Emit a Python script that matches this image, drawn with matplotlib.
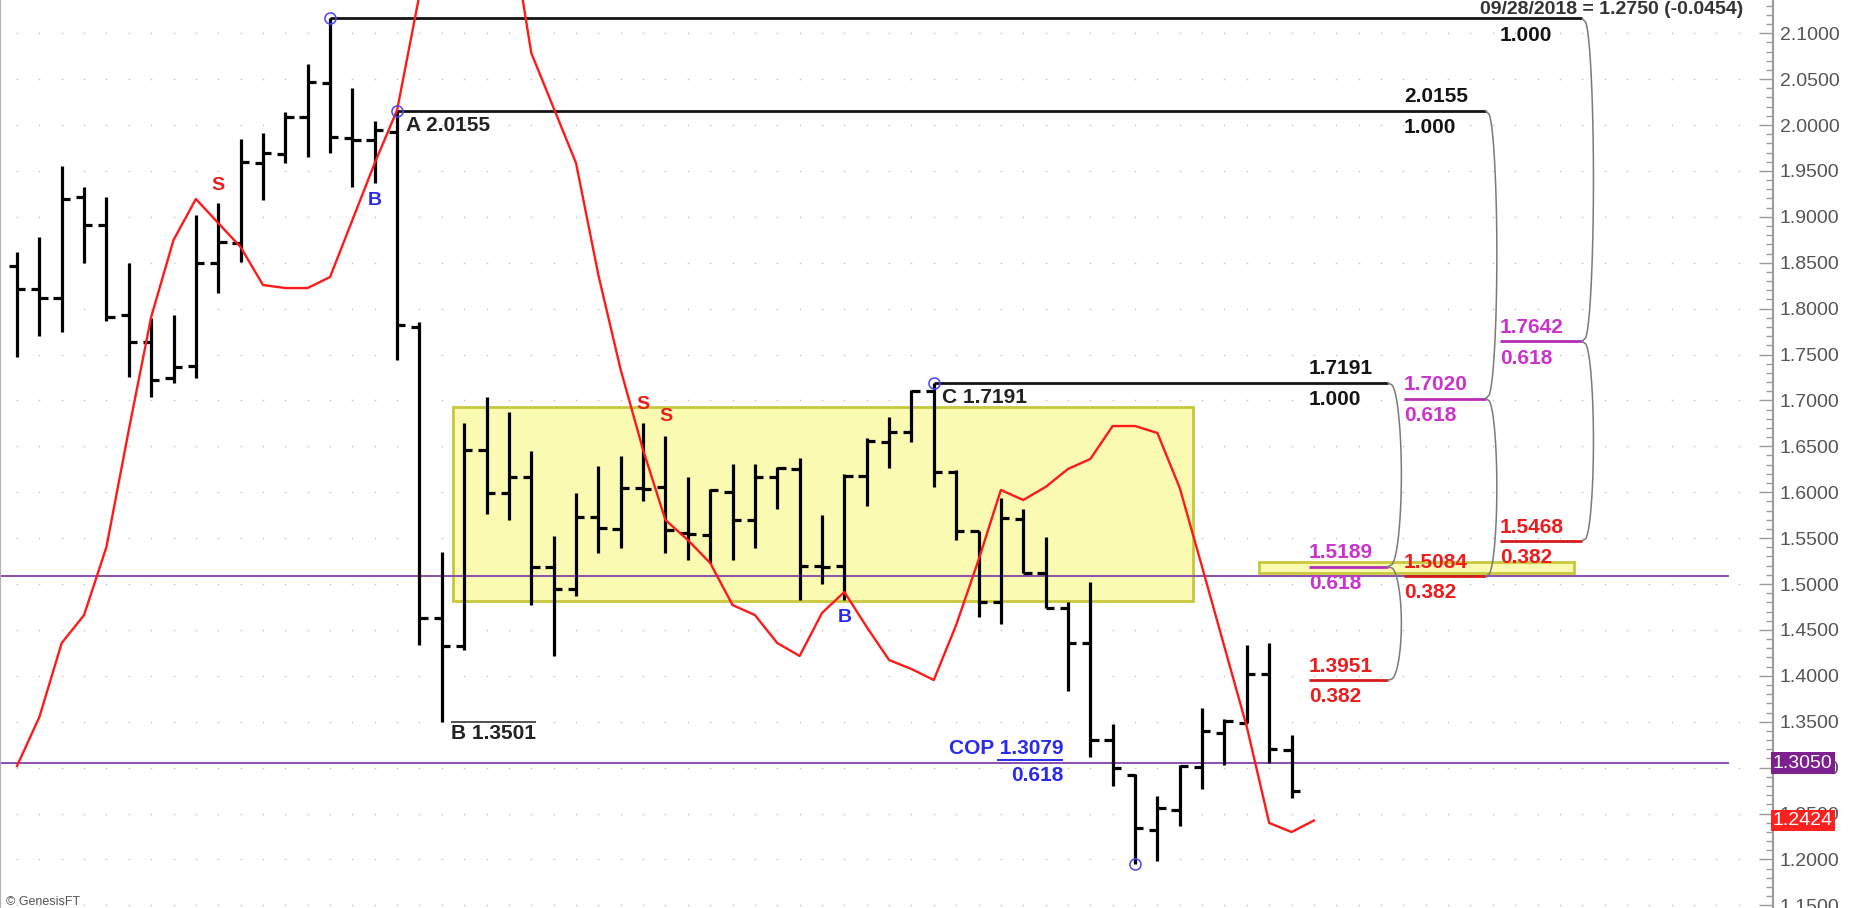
"""Bar chart with Fibonacci projections (GenesisFT style screenshot)."""

import numpy as np
import matplotlib

matplotlib.use("Agg")
import matplotlib.pyplot as plt
from matplotlib.patches import Rectangle
from matplotlib.ticker import MultipleLocator, FormatStrFormatter
from matplotlib.transforms import blended_transform_factory

plt.rcParams["font.family"] = ["Liberation Sans", "DejaVu Sans"]

# ---- OHLC bars (one per period) ----
opens = [1.8467, 1.8210, 1.8119, 1.9219, 1.8911, 1.7930, 1.7640, 1.7241, 1.7378, 1.8493,
         1.8711, 1.9583, 1.9684, 2.0084, 2.0454, 1.9855, 1.9837, 1.9927, 1.7803, 1.4626,
         1.4325, 1.6460, 1.5988, 1.6169, 1.5189, 1.4946, 1.5733, 1.5595, 1.6042, 1.6053,
         1.5552, 1.5534, 1.5999, 1.5697, 1.6162, 1.6253, 1.5196, 1.5196, 1.6176, 1.6550,
         1.6659, 1.7106, 1.6223, 1.5581, 1.4807, 1.5705, 1.5123, 1.4735, 1.4354, 1.3301,
         1.2919, 1.2320, 1.2538, 1.3003, 1.3374, 1.3489, 1.4020, 1.3192]
highs = [1.8613, 1.8777, 1.9557, 1.9328, 1.9212, 1.8493, 1.7901, 1.7930, 1.9020, 1.9147,
         1.9844, 1.9910, 2.0145, 2.0664, 2.1161, 2.0400, 2.0047, 2.0155, 1.7857, 1.5352,
         1.6750, 1.7040, 1.6877, 1.6452, 1.5526, 1.5995, 1.6289, 1.6398, 1.6750, 1.6612,
         1.6162, 1.6035, 1.6307, 1.6307, 1.6271, 1.6369, 1.5752, 1.6198, 1.6587, 1.6823,
         1.7113, 1.7191, 1.6242, 1.5581, 1.5934, 1.5814, 1.5509, 1.4807, 1.5025, 1.3475,
         1.2930, 1.2691, 1.3028, 1.3646, 1.3526, 1.4336, 1.4361, 1.3355]
lows = [1.7476, 1.7702, 1.7742, 1.8493, 1.7868, 1.7258, 1.7040, 1.7186, 1.7241, 1.8167,
        1.8511, 1.9183, 1.9583, 1.9655, 1.9698, 1.9328, 1.9365, 1.7440, 1.4336, 1.3501,
        1.4281, 1.5763, 1.5697, 1.4771, 1.4219, 1.4869, 1.5341, 1.5389, 1.5907, 1.5334,
        1.5261, 1.5232, 1.5261, 1.5389, 1.5814, 1.4826, 1.4997, 1.4826, 1.5850, 1.6260,
        1.6550, 1.6053, 1.5479, 1.4637, 1.4564, 1.5123, 1.4735, 1.3838, 1.3119, 1.2800,
        1.1949, 1.1986, 1.2364, 1.2764, 1.3028, 1.3489, 1.3047, 1.2665]
closes = [1.8210, 1.8119, 1.9191, 1.8911, 1.7912, 1.7640, 1.7222, 1.7367, 1.8493, 1.8729,
          1.9594, 1.9692, 2.0091, 2.0472, 1.9866, 1.9837, 1.9946, 1.7821, 1.4626, 1.4325,
          1.6460, 1.5988, 1.6169, 1.5189, 1.4946, 1.5733, 1.5606, 1.6042, 1.6030, 1.5588,
          1.5545, 1.6024, 1.5697, 1.6162, 1.6260, 1.5196, 1.5190, 1.6176, 1.6561, 1.6659,
          1.7106, 1.6223, 1.5581, 1.4807, 1.5716, 1.5123, 1.4735, 1.4354, 1.3301, 1.2992,
          1.2339, 1.2557, 1.3017, 1.3402, 1.3511, 1.4020, 1.3199, 1.2750]

# ---- red indicator line (runs one period past the last bar) ----
red_line = [1.3017, 1.3551, 1.4357, 1.4662, 1.5403, 1.6678, 1.7908, 1.8747, 1.9194, 1.8932,
            1.8671, 1.8257, 1.8224, 1.8224, 1.8344, 1.8965, 1.9586, 2.0163, 2.1420, 2.2600,
            2.3200, 2.3000, 2.2300, 2.0784, 2.0185, 1.9586, 1.8366, 1.7331, 1.6460, 1.5697,
            1.5479, 1.5229, 1.4771, 1.4662, 1.4357, 1.4216, 1.4684, 1.4913, 1.4532, 1.4172,
            1.4074, 1.3954, 1.4553, 1.5261, 1.6024, 1.5915, 1.6057, 1.6253, 1.6362, 1.6721,
            1.6721, 1.6645, 1.6046, 1.5185, 1.4314, 1.3442, 1.2397, 1.2298, 1.2424]

# ---- Fibonacci projection columns ----
fib_anchor_bars = [14, 17, 41]
fib_full = [2.1161, 2.0155, 1.7191]
fib_618 = [1.7642, 1.7020, 1.5189]
fib_382 = [1.5468, 1.5084, 1.3951]

# swing points
pivot_bars = [14, 17, 41, 50]
pivot_prices = [2.1161, 2.0155, 1.7191, 1.1949]
b_point = 1.3501
cop_level = 1.3079

# signal letters
signal_bars = [9, 16, 28, 29, 37]
signal_prices = [1.9346, 1.9183, 1.6950, 1.6822, 1.4630]
signal_text = ["S", "B", "S", "S", "B"]

# horizontal study lines and consolidation boxes
purple_levels = [1.5090, 1.3050]
box_big = (19.5, 52.6, 1.4820, 1.6928)
box_small = (55.55, 69.63, 1.5115, 1.5243)

last_label = "09/28/2018 = 1.2750 (-0.0454)"

# ------------------------------------------------------------------
W, H, DPI = 1854, 908, 100
fig = plt.figure(figsize=(W / DPI, H / DPI), dpi=DPI)
ax = fig.add_axes([0, 0, 1773 / W, 1])
ax.set_xlim(-0.76, 78.53)
ax.set_ylim(1.14706, 2.13617)

BLACK = "#141414"
MAGENTA = "#cc33cc"
RED = "#ee1c1c"
BLUE = "#2a2aee"
PURPLE = "#8e4fae"

# dotted grid
for lev in np.arange(1.15, 2.101, 0.05):
    xs = np.arange(0, 78)
    ax.plot(xs, np.full(len(xs), lev), linestyle="none", marker="o", ms=1.2,
            mew=0, color="#c8c8c8", zorder=1)

# boxes
x0, x1, y0, y1 = box_big
ax.add_patch(Rectangle((x0, y0), x1 - x0, y1 - y0, fc="#fafab2", ec="#c8c83a",
                       lw=2.0, zorder=1.5))
x0, x1, y0, y1 = box_small
ax.add_patch(Rectangle((x0, y0), x1 - x0, y1 - y0, fc="#fafab2", ec="#c8c83a",
                       lw=2.0, zorder=1.5))

ax.hlines(purple_levels, -0.76, 76.57, color=PURPLE, lw=1.4, zorder=2)

# OHLC bars
idx = np.arange(len(opens))
ax.vlines(idx, lows, highs, color="black", lw=2.3, zorder=4)
ax.hlines(opens, idx - 0.37, idx, color="black", lw=2.3, zorder=4)
ax.hlines(closes, idx, idx + 0.37, color="black", lw=2.3, zorder=4)

ax.plot(np.arange(len(red_line)), red_line, color="#ff1a1a", lw=1.7, zorder=5)

ax.plot(pivot_bars, pivot_prices, "o", mfc="none", mec="#4646ff", ms=8, mew=1.1,
        zorder=6)

lbl = dict(fontsize=15, fontweight="bold", textcoords="offset points",
           va="center", zorder=7)


def bracket(x_end, y_top, y_bot, bulge):
    t = np.linspace(0, 1, 80)
    ax.plot(x_end + bulge * np.sin(np.pi * t) ** 0.35, y_top + (y_bot - y_top) * t,
            color="#7a7a7a", lw=1.1, zorder=3)


col_x = [(66.32, 70.0), (62.03, 65.68), (57.78, 61.31)]
for k in range(3):
    xs, xe = col_x[k]
    ax.hlines(fib_full[k], fib_anchor_bars[k], xe, color=BLACK, lw=2.0, zorder=3)
    if k > 0:
        ax.annotate(f"{fib_full[k]:.4f}", (xs, fib_full[k]), xytext=(0, 10), ha="left",
                    color=BLACK, **lbl)
    ax.annotate("1.000", (xs, fib_full[k]), xytext=(0, -12), ha="left", color=BLACK, **lbl)
    for lev, ratio, col, lc in ((fib_618[k], "0.618", MAGENTA, "#b52db5"),
                                (fib_382[k], "0.382", RED, "#d41c1c")):
        ax.hlines(lev, xs, xe, color=lc, lw=2.0, zorder=3)
        ax.annotate(f"{lev:.4f}", (xs, lev), xytext=(0, 10), ha="left", color=col, **lbl)
        ax.annotate(ratio, (xs, lev), xytext=(0, -12), ha="left", color=col, **lbl)
    bulge = 0.6 if k == 2 else 0.5
    bracket(xe, fib_full[k], fib_618[k], bulge)
    bracket(xe, fib_618[k], fib_382[k], bulge)

# swing labels
ax.annotate("A 2.0155", (17, fib_full[1]), xytext=(6.5, -10.5), ha="left",
            color="#222222", **lbl)
ax.annotate("C 1.7191", (41, fib_full[2]), xytext=(6, -10.5), ha="left",
            color="#222222", **lbl)
ax.hlines(b_point, 19.41, 23.21, color="#333333", lw=1.2, zorder=3)
ax.annotate("B 1.3501", (19.41, b_point), xytext=(0, -8.6), ha="left",
            color="#222222", **lbl)

ax.hlines(cop_level, 43.83, 46.78, color=BLUE, lw=1.4, zorder=3)
ax.annotate("COP 1.3079", (46.78, cop_level), xytext=(0, 8.4), ha="right", color=BLUE, **lbl)
ax.annotate("0.618", (46.78, cop_level), xytext=(0, -11), ha="right", color=BLUE, **lbl)

for xb, yb, s in zip(signal_bars, signal_prices, signal_text):
    ax.text(xb, yb, s, ha="center", va="center", fontsize=14, fontweight="bold",
            color=RED if s == "S" else BLUE, zorder=7)

ax.text(77.19, 2.1253, last_label, ha="right", va="center", fontsize=14,
        fontweight="bold", color="#333333", zorder=7)
ax.text(-0.49, 1.1536, "\u00a9 GenesisFT", ha="left", va="center", fontsize=9,
        color="#555555")

# right price axis
ax.yaxis.tick_right()
ax.yaxis.set_major_locator(MultipleLocator(0.05))
ax.yaxis.set_minor_locator(MultipleLocator(0.01))
ax.yaxis.set_major_formatter(FormatStrFormatter("%.4f"))
ax.tick_params(axis="y", which="major", direction="in", length=10, width=1,
               color="#9a9a9a", labelsize=14, labelcolor="#555555", pad=5)
ax.tick_params(axis="y", which="minor", direction="in", length=5, width=1,
               color="#9a9a9a")
ax.set_xticks([])
for side in ("top", "bottom"):
    ax.spines[side].set_visible(False)
ax.spines["left"].set_color("#b0b0b0")
ax.spines["left"].set_linewidth(1.5)
ax.spines["right"].set_color("#9a9a9a")
ax.spines["right"].set_linewidth(1.5)

tr = blended_transform_factory(ax.transAxes, ax.transData)
ax.text(1.0, purple_levels[1], f"{purple_levels[1]:.4f}", transform=tr, ha="left",
        va="center", fontsize=14, color="white", clip_on=False, zorder=8,
        bbox=dict(boxstyle="square,pad=0.12", fc="#7d1f8e", ec="none"))
ax.text(1.0, red_line[-1], f"{red_line[-1]:.4f}", transform=tr, ha="left",
        va="center", fontsize=14, color="white", clip_on=False, zorder=8,
        bbox=dict(boxstyle="square,pad=0.12", fc="#ff2020", ec="none"))

fig.savefig("out.png", dpi=DPI)
